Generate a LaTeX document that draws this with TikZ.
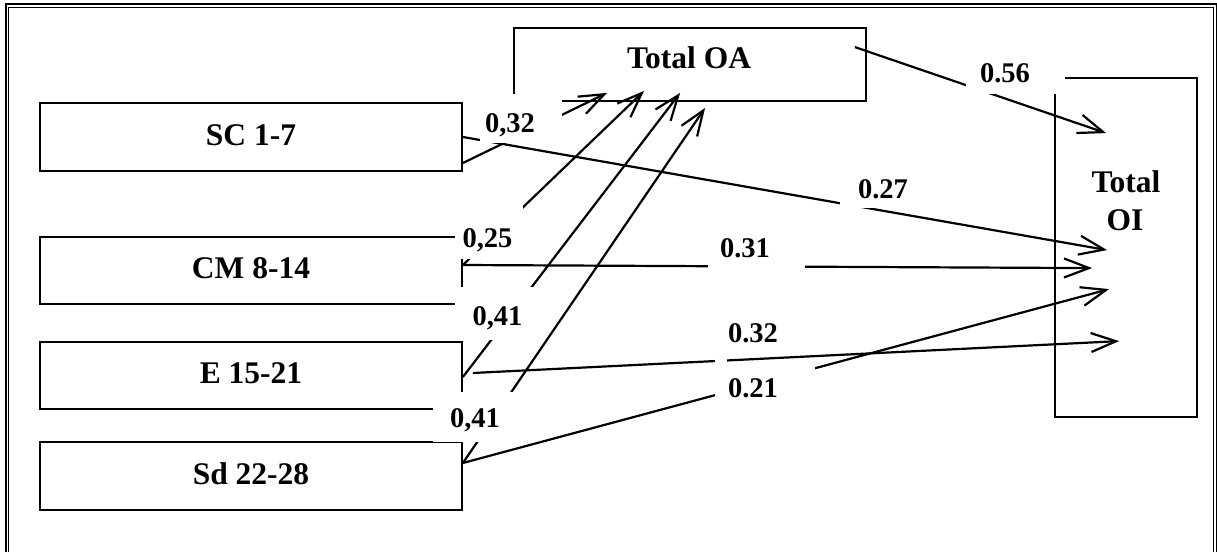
\documentclass[tikz,border=0pt]{standalone}
\usepackage{fontspec}
\setmainfont{Liberation Serif}
\usetikzlibrary{arrows.meta}
\begin{document}
\begin{tikzpicture}[x=1pt,y=-1pt,
  varbox/.style={draw, line width=1.8pt, inner sep=0pt, minimum width=422pt,
    minimum height=67.5pt, font=\fontsize{31.5}{36}\selectfont\bfseries,
    text height=22pt, text depth=6pt},
  bigbox/.style={draw, line width=1.8pt, inner sep=0pt},
  boxtext/.style={anchor=base, inner sep=0pt, font=\fontsize{31.5}{36}\selectfont\bfseries},
  coef/.style={anchor=base, inner sep=0pt, font=\fontsize{28.5}{32}\selectfont\bfseries},
  link/.style={line width=2.2pt, -{Straight Barb[length=25pt,width=19pt]}},
  cover/.style={fill=white}
]
\useasboundingbox (0,0) rectangle (1217,551);

% double frame, open at the bottom
\draw[line width=2pt] (6,560) -- (6,4.5) -- (1216.8,4.5) -- (1216.8,560);
\draw[line width=1.3pt] (8.6,560) -- (8.6,7.4) -- (1213.4,7.4) -- (1213.4,560);

% dimension boxes
\node[varbox] (sc) at (251,137) {SC 1-7};
\node[varbox] (cm) at (251,270.5) {CM 8-14};
\node[varbox] (e) at (251,375.5) {E 15-21};
\node[varbox] (sd) at (251,476) {Sd 22-28};

% outcome boxes
\node[bigbox, minimum width=352pt, minimum height=73pt] (oa) at (690,64.5) {};
\node[bigbox, minimum width=142pt, minimum height=339pt] (oi) at (1126,247.5) {};
\node[boxtext] (oatext) at (689,68) {Total OA};
\node[boxtext] (oitext1) at (1126,192) {Total};
\node[boxtext] (oitext2) at (1125,230) {OI};

% paths
\draw[link] (sc.east) -- ([shift={(53pt,-173pt)}]oi.north west);
\draw[link] ([yshift=-26pt]sc.east) -- ([shift={(94pt,9pt)}]oa.south west);
\draw[link] ([yshift=5.5pt]cm.east) -- ([shift={(131pt,11pt)}]oa.south west);
\draw[link] ([yshift=5.5pt]cm.east) -- ([shift={(38pt,-191pt)}]oi.north west);
\draw[link] ([yshift=-1.5pt]e.east) -- ([shift={(167pt,9pt)}]oa.south west);
\draw[link] ([shift={(10pt,2.5pt)}]e.east) -- ([shift={(65pt,-264pt)}]oi.north west);
\draw[link] ([yshift=13pt]sd.east) -- ([shift={(192pt,-6pt)}]oa.south west);
\draw[link] ([yshift=13pt]sd.east) -- ([shift={(55pt,-212pt)}]oi.north west);
\draw[link] ([shift={(-12pt,-20pt)}]oa.north east) -- ([shift={(52pt,-56pt)}]oi.north west);

% coefficient labels on white patches
\fill[cover] (480,94) rectangle (562,143);
\node[coef] (k032) at (510,132) {0,32};
\fill[cover] (455,206) rectangle (523,259);
\node[coef] (k025) at (487.5,247) {0,25};
\fill[cover] (455,287) rectangle (537,340);
\node[coef] (k041a) at (497.5,325) {0,41};
\fill[cover] (433,392) rectangle (514,441.5);
\node[coef] (k041b) at (475,427) {0,41};
\fill[cover] (966,50) rectangle (1065,94);
\node[coef] (k056) at (1005,82) {0.56};
\fill[cover] (840,170) rectangle (876,208);
\node[coef] (k027) at (883,198) {0.27};
\fill[cover] (708,228) rectangle (805,276);
\node[coef] (k031) at (745,257) {0.31};
\fill[cover] (715,318) rectangle (727,363.5);
\node[coef] (k032b) at (753,342) {0.32};
\fill[cover] (715,364) rectangle (815,402);
\node[coef] (k021) at (753,397) {0.21};
\end{tikzpicture}
\end{document}
